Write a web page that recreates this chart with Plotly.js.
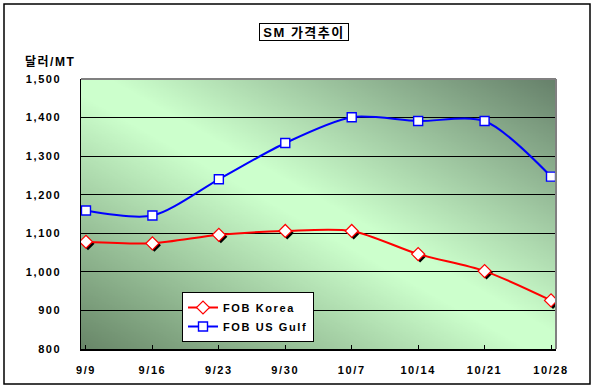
<!DOCTYPE html>
<html><head><meta charset="utf-8">
<script src="https://cdn.plot.ly/plotly-3.0.1.min.js"></script>
<style>
html,body{margin:0;padding:0;background:#fff;}
#chart{width:594px;height:391px;}
.xtick text,.ytick text,.legendtext{letter-spacing:1.6px;}
.annotation-text{letter-spacing:1.5px;}
</style></head><body><div id="chart"></div>
<script>
const categories = ['9/9','9/16','9/23','9/30','10/7','10/14','10/21','10/28'];
const fobKorea = [1078,1074,1096,1106,1106,1046,1002,926];
const fobUSGulf = [1159,1146,1240,1334,1401,1391,1391,1247];
const yTickValues = [800,900,1000,1100,1200,1300,1400,1500];
const yTickLabels = ['800','900','1,000','1,100','1,200','1,300','1,400','1,500'];
const seriesNames = ['FOB Korea','FOB US Gulf'];

const idx = categories.map((c,i)=>i);

// gradient background image
const cv = document.createElement('canvas');
cv.width = 300; cv.height = 300;
const ctx = cv.getContext('2d');
const g = ctx.createLinearGradient(0,300,300,0);
g.addColorStop(0,'#688668');
g.addColorStop(0.47,'#ccffcc');
g.addColorStop(0.53,'#ccffcc');
g.addColorStop(1,'#66806a');
ctx.fillStyle = g; ctx.fillRect(0,0,300,300);
const bgURL = cv.toDataURL('image/png');

const L=81, R=38, T=79, B=42, W=594, H=391;
const pw = W-L-R, ph = H-T-B;
const xr = [-0.075, 7.075];
const yr = [800, 1500];
const dx = 2*(xr[1]-xr[0])/pw, dy = 2*(yr[1]-yr[0])/ph;

const fnt = 'Liberation Sans, Arial, sans-serif';
const kfnt = 'Liberation Sans, Arial, Noto Sans CJK KR, sans-serif';

const traces = [
  {x: idx, y: fobKorea, xaxis:'x', yaxis:'y', mode:'none', showlegend:false, hoverinfo:'skip'},
  {x: idx, y: fobKorea, xaxis:'x2', yaxis:'y2', mode:'markers', showlegend:false, hoverinfo:'skip',
   marker:{symbol:'diamond', size:10, color:'#000', line:{width:0}}},
  {x: idx, y: fobKorea, xaxis:'x3', yaxis:'y3', name: seriesNames[0], mode:'lines+markers',
   line:{color:'#ff0000', width:2, shape:'spline', smoothing:0.8},
   marker:{symbol:'diamond', size:10, color:'#ffffff', line:{color:'#ff0000', width:1.2}}},
  {x: idx, y: fobUSGulf, xaxis:'x3', yaxis:'y3', name: seriesNames[1], mode:'lines+markers',
   line:{color:'#0000ff', width:2, shape:'spline', smoothing:0.8},
   marker:{symbol:'square', size:9, color:'#ffffff', line:{color:'#0000ff', width:1.4}}}
];

const layout = {
  width: W, height: H,
  margin: {l:L, r:R, t:T, b:B, pad:0},
  paper_bgcolor:'#ffffff', plot_bgcolor:'rgba(0,0,0,0)',
  font:{family:fnt, size:11, color:'#000', weight:'bold'},
  xaxis: {range: xr, tickvals: idx, ticktext: categories, ticks:'inside', ticklen:4, tickcolor:'#000', tickwidth:1,
          showline:true, linecolor:'#000', linewidth:1.5, showgrid:false, zeroline:false, fixedrange:true,
          ticklabelstandoff: 10, tickfont:{family:fnt, size:11, weight:'bold', color:'#000'}},
  yaxis: {range: yr, tickvals: yTickValues, ticktext: yTickLabels, ticks:'', showgrid:true, gridcolor:'#000', gridwidth:1,
          showline:true, linecolor:'#000', linewidth:1.5, zeroline:false, fixedrange:true,
          ticklabelstandoff: 16, tickfont:{family:fnt, size:11, weight:'bold', color:'#000'}},
  xaxis2: {overlaying:'x', anchor:'y2', range:[xr[0]-dx, xr[1]-dx], visible:false, fixedrange:true},
  yaxis2: {overlaying:'y', anchor:'x2', range:[yr[0]+dy, yr[1]+dy], visible:false, fixedrange:true},
  xaxis3: {overlaying:'x', anchor:'y3', range: xr, visible:false, fixedrange:true},
  yaxis3: {overlaying:'y', anchor:'x3', range: yr, visible:false, fixedrange:true},
  showlegend: true,
  legend: {x:(182-L)/pw, y:(H-B-292)/ph, xanchor:'left', yanchor:'top', bgcolor:'#ffffff', bordercolor:'#000', borderwidth:1,
           font:{family:fnt, size:11, weight:'bold', color:'#000'}, itemwidth:30, tracegroupgap:0, traceorder:'normal'},
  images: [{source: bgURL, xref:'paper', yref:'paper', x:0, y:1, sizex:1, sizey:1, sizing:'stretch',
            xanchor:'left', yanchor:'top', layer:'below'}],
  shapes: [
    {type:'line', xref:'paper', yref:'paper', x0:0, x1:1, y0:1, y1:1, line:{color:'#808080', width:2}, layer:'above'},
    {type:'line', xref:'paper', yref:'paper', x0:1, x1:1, y0:0, y1:1, line:{color:'#808080', width:2}, layer:'above'},
    {type:'rect', xref:'paper', yref:'paper', x0:(4-L)/pw, x1:(590-L)/pw, y0:(H-B-384)/ph, y1:(H-B-4)/ph,
     line:{color:'#000', width:1.5}, fillcolor:'rgba(0,0,0,0)', layer:'above'}
  ],
  annotations: [
    {text:'SM 가격추이', xref:'paper', yref:'paper', x:(304-L)/pw, y:(H-B-31.5)/ph, xanchor:'center', yanchor:'middle',
     showarrow:false, bgcolor:'#ffffff', bordercolor:'#000', borderwidth:1, borderpad:1, width:86, height:14,
     font:{family:kfnt, size:13, weight:'bold', color:'#000'}},
    {text:'달러/MT', xref:'paper', yref:'paper', x:(50-L)/pw, y:(H-B-62)/ph, xanchor:'center', yanchor:'middle',
     showarrow:false, font:{family:kfnt, size:12, weight:'bold', color:'#000'}}
  ]
};

Plotly.newPlot('chart', traces, layout, {displayModeBar:false, staticPlot:true});
</script>
</body></html>
